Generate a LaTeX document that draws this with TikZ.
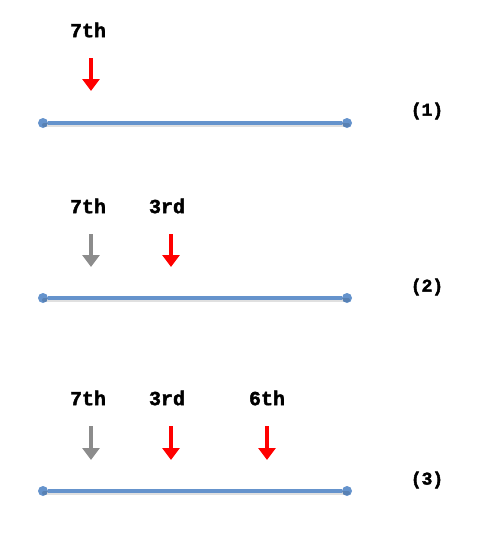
\documentclass[tikz,border=0pt]{standalone}
\usepackage{fontspec}
\setmonofont[BoldFeatures={FakeBold=2}]{Liberation Mono}
\usetikzlibrary{arrows.meta}
\definecolor{linecol}{RGB}{101,147,204}
\definecolor{grayarrow}{RGB}{140,140,140}
\tikzset{
  lbl/.style={font=\ttfamily\bfseries\fontsize{20}{24}\selectfont, inner sep=0pt},
  numlbl/.style={font=\ttfamily\bfseries\fontsize{18}{22}\selectfont, inner sep=0pt},
  seg/.style={draw=linecol, line width=3.5pt},
  segshadow/.style={draw=black, opacity=0.12, line width=4pt, line cap=round},
  dot/.style={circle, fill=linecol, minimum size=10pt, inner sep=0pt},
  redarrow/.style={draw=red, line width=3.2pt, -{Triangle[width=17pt,length=12pt]}},
  grayarr/.style={draw=grayarrow, line width=3.2pt, -{Triangle[width=17pt,length=12pt]}},
}
\begin{document}
\begin{tikzpicture}[x=1pt,y=-1pt]
\useasboundingbox (0,0) rectangle (486,557);
% set 1
\node[dot] (a1) at (43,123) {};
\node[dot] (b1) at (347,123) {};
\draw[segshadow] ([shift={(1,2)}]a1.center) -- ([shift={(1,2)}]b1.center);
\draw[seg] (a1) -- (b1);
\node[lbl] (t1a) at (88,30) {7th};
\coordinate (s1a) at (91,58);
\coordinate (e1a) at (91,91);
\draw[redarrow] (s1a) -- (e1a);
\node[numlbl] (n1) at (427,111) {(1)};
% set 2
\node[dot] (a2) at (43,298) {};
\node[dot] (b2) at (347,298) {};
\draw[segshadow] ([shift={(1,2)}]a2.center) -- ([shift={(1,2)}]b2.center);
\draw[seg] (a2) -- (b2);
\node[lbl] (t2a) at (88,206) {7th};
\node[lbl] (t2b) at (167,206) {3rd};
\coordinate (s2a) at (91,234);
\coordinate (e2a) at (91,267);
\coordinate (s2b) at (171,234);
\coordinate (e2b) at (171,267);
\draw[grayarr] (s2a) -- (e2a);
\draw[redarrow] (s2b) -- (e2b);
\node[numlbl] (n2) at (427,287) {(2)};
% set 3
\node[dot] (a3) at (43,491) {};
\node[dot] (b3) at (347,491) {};
\draw[segshadow] ([shift={(1,2)}]a3.center) -- ([shift={(1,2)}]b3.center);
\draw[seg] (a3) -- (b3);
\node[lbl] (t3a) at (88,398) {7th};
\node[lbl] (t3b) at (167,398) {3rd};
\node[lbl] (t3c) at (267,398) {6th};
\coordinate (s3a) at (91,426);
\coordinate (e3a) at (91,460);
\coordinate (s3b) at (171,426);
\coordinate (e3b) at (171,460);
\coordinate (s3c) at (267,426);
\coordinate (e3c) at (267,460);
\draw[grayarr] (s3a) -- (e3a);
\draw[redarrow] (s3b) -- (e3b);
\draw[redarrow] (s3c) -- (e3c);
\node[numlbl] (n3) at (427,480) {(3)};
\end{tikzpicture}
\end{document}
